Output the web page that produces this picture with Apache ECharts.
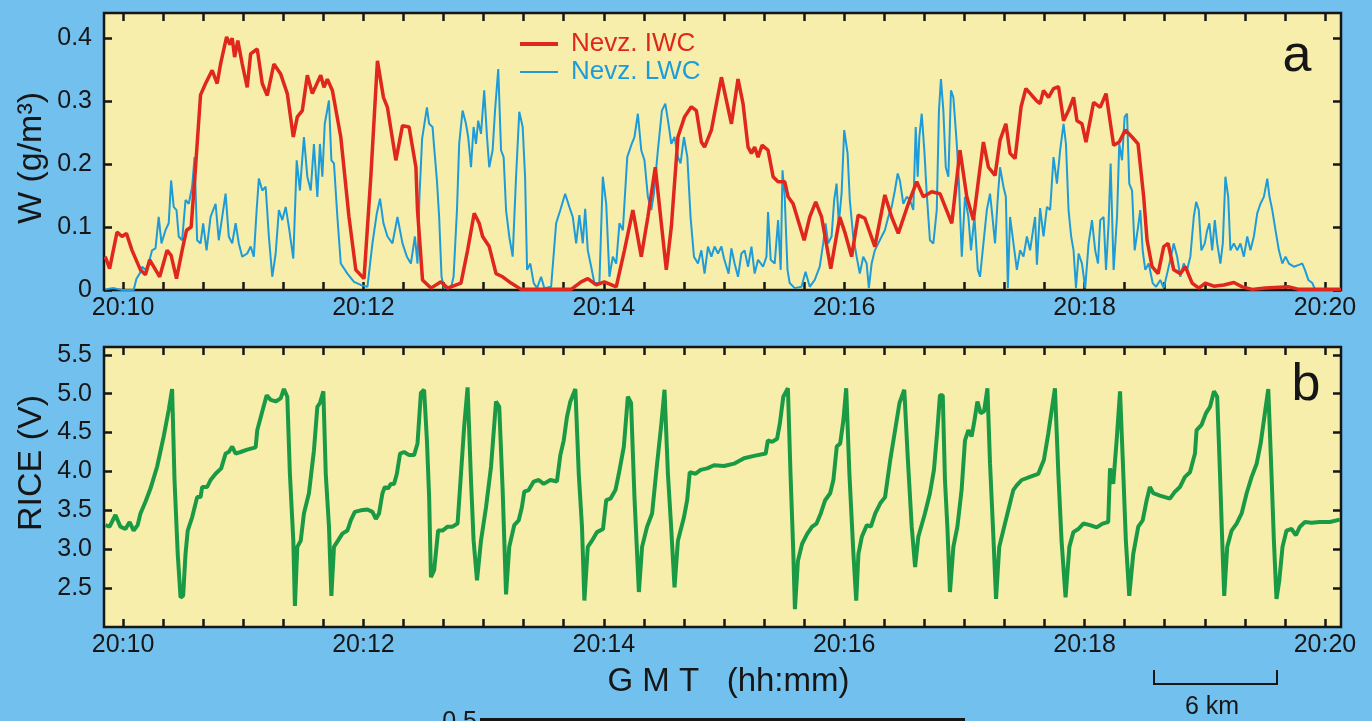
<!DOCTYPE html>
<html>
<head>
<meta charset="utf-8">
<title>Nevz. IWC / LWC and RICE</title>
<script src="https://cdn.jsdelivr.net/npm/echarts@6/dist/echarts.min.js"></script>
<style>
html, body { margin: 0; padding: 0; background: #72c0ee; }
#chart { width: 1372px; height: 721px; }
</style>
</head>
<body>
<div id="chart"></div>
<script>
// time is seconds after 20:10:00 GMT

// panel a - Nevz. IWC (g/m3)
var iwcTime = [-8.9,-6.7,-3,-0.5,1.7,4.5,8.7,11.2,13.3,15.3,18.3,22,24,26.7,29.5,31.7,34,36.2,38.7,41.2,44.5,47,48.7,51.7,53.3,54.5,55.7,57.3,59.5,62,63.7,67,69.5,72,75.3,78.7,82,85,87,89.5,92,94.5,98.7,100.3,102,104.5,108.7,112.8,116.2,120.3,123.7,127,130,132,136.2,139.5,142.8,146.2,147,149.5,153.7,158.7,162,168.7,172,175.3,177.8,179.5,182.8,186.2,189.5,193.7,198.7,223.7,228.7,232,236.2,240.3,246.2,250.3,254.5,258.7,262,265.7,268.7,271.2,273.7,277,280.3,283.7,286.2,288.7,290.3,293.7,298.7,303.7,307,309.5,312,313.7,315.3,317,319,322,324.5,327,330.3,332,334.5,340,342.8,345.8,348.7,353.3,357.8,360.3,363.7,367,370.3,375.3,380.3,383.7,387,392,396.2,399.5,403.7,407.8,413.7,417.8,421.2,424.5,427,429.5,432,435.3,437.8,440.7,442.8,445.3,448.3,450.7,453.7,456.2,457.8,459.5,462,464.5,467,469.5,472,474.5,476.2,478.7,480.7,484.5,487.8,490.7,494.5,497.3,500.3,503.7,506.7,509.5,511.2,513.7,516.7,519.5,521.7,524.5,527.8,530.3,533.7,537,540.3,544.5,549.5,554.5,558.7,563.7,570.3,582,587,608];
var iwcVal = [0.053,0.034,0.092,0.085,0.09,0.063,0.032,0.024,0.048,0.037,0.021,0.063,0.055,0.018,0.063,0.095,0.1,0.195,0.31,0.328,0.349,0.328,0.359,0.402,0.39,0.40,0.37,0.396,0.359,0.322,0.375,0.383,0.328,0.309,0.359,0.343,0.312,0.243,0.275,0.285,0.341,0.312,0.341,0.322,0.335,0.317,0.243,0.116,0.032,0.018,0.18,0.364,0.306,0.29,0.206,0.261,0.259,0.195,0.127,0.016,0.003,0.013,0.003,0.011,0.063,0.122,0.106,0.085,0.069,0.026,0.021,0.011,0.001,0.001,0.013,0.018,0.008,0.013,0.005,0.063,0.127,0.053,0.116,0.195,0.106,0.032,0.1,0.243,0.275,0.291,0.285,0.235,0.227,0.254,0.338,0.264,0.335,0.296,0.227,0.217,0.227,0.211,0.23,0.222,0.18,0.172,0.172,0.148,0.137,0.079,0.116,0.14,0.116,0.034,0.116,0.092,0.053,0.119,0.114,0.069,0.151,0.116,0.09,0.137,0.172,0.148,0.156,0.153,0.106,0.222,0.148,0.111,0.174,0.235,0.195,0.182,0.238,0.264,0.217,0.209,0.291,0.32,0.309,0.30,0.296,0.317,0.306,0.32,0.323,0.269,0.285,0.306,0.269,0.264,0.235,0.298,0.29,0.312,0.23,0.235,0.254,0.243,0.232,0.148,0.079,0.037,0.026,0.069,0.074,0.032,0.026,0.037,0.011,0.003,0.011,0.006,0.008,0.012,0.005,0.001,0.003,0.005,0.001,0.001];

// panel a - Nevz. LWC (g/m3)
var lwcTime = [-8.9,-4.7,-0.5,3,5.3,6.7,8.3,9.5,11.2,12.8,14.5,16.2,17.8,19.2,21.2,22.8,24,25.3,26.7,27.8,29.5,31.2,32.8,34.5,35.7,37,38.7,40,41.7,43.7,46.2,47.8,49.5,51.2,52.8,54.5,56.2,57.8,59.5,62,63.7,65.3,66.7,67.8,69.5,71.2,72.8,74.5,76.2,77.8,79.5,81.2,82.8,85,86.7,88.3,90.3,92,93.7,95.3,97,98.3,99.5,100.7,102.8,104,105.3,107,108.7,112,115.3,118.7,122,124.5,126.7,128.3,130,132,134.5,137,139.5,141.7,143.7,145.7,147,148,149.3,151.7,152.8,154.5,155.3,156.7,157.8,159,160.3,163.7,165,166.7,167.8,169.5,171.2,172.3,173.7,175,176.2,177.3,178.7,180.3,181.7,182.8,184.5,185.7,187.3,188.7,190,191.2,192.8,194.5,196.2,197.8,199.5,200.7,201.7,203.3,205,206.7,208.7,210.3,213.7,216.2,218.3,220.7,222.8,224.5,226.2,227.8,229.5,230.7,232,233.7,235.3,237.8,239.5,241.2,242.8,244.5,246.2,247.8,249.5,251.7,253.7,255.3,257,258.7,260.3,262,263.7,265,267,269,270.7,272.3,273.7,275.3,277,278.3,280,281.7,283.3,285,287,288.7,290.3,292,293.7,295.3,297,298.7,300,302.3,303.7,305.3,307,308.7,310.3,312,313.7,315.3,317,319.5,321.2,322,323.3,325.3,327,328.3,329.2,330.3,331.7,332.8,335.3,338.7,340.7,342.8,345.3,347.8,349.5,350.7,352,353.7,355,356.2,357.3,358.7,360,361.7,362.8,364.5,366.2,367.8,369.5,371.2,372.3,373.7,375.3,377,378.7,380.3,382,383.7,385.3,386.7,387.8,389.5,391.2,392.8,394.5,395.7,396.7,397.5,398.7,400,401.2,402.8,404.5,406.2,407.3,408.3,409.5,410.7,412,413.3,414.5,416.2,417.3,418.7,420.3,422,423.3,425,426.7,427.8,429.5,431.2,432.8,434,435.3,436.7,437.8,439.5,440.7,441.7,442.8,444.5,446.2,447.8,449.5,451.2,452.8,454.5,455.3,456.2,457.8,459.5,461.2,462.8,464.5,466.2,467.8,469.5,470.7,472,473.3,474.5,475.7,477,478.7,480.3,482,483.7,485.3,486.7,487.8,489.5,490.7,492,493,494.5,496.2,497.3,498.7,500,501.2,502.3,503.7,505,506.7,507.8,509,510.3,512,514,515.7,517.8,519.5,521.2,522.8,524.5,526.2,527.8,529.5,531.2,532.8,534.5,535.7,537,538.3,540,541.2,542.3,543.7,545,546.2,547.8,549,550.3,551.7,552.8,554.5,556.2,557.8,559.5,561.2,562.8,564.5,566.2,567.8,569.5,571.2,572.3,573.7,575.3,577,578.7,580.3,582,584.5,587,588.7,590,591.7,593.7,595];
var lwcVal = [0.001,0.003,0,0,0,0.018,0.026,0.037,0.032,0.042,0.063,0.066,0.116,0.074,0.095,0.106,0.174,0.132,0.127,0.085,0.079,0.143,0.137,0.164,0.211,0.079,0.074,0.106,0.063,0.116,0.137,0.079,0.116,0.153,0.085,0.074,0.106,0.074,0.053,0.058,0.069,0.053,0.127,0.177,0.158,0.164,0.085,0.021,0.058,0.127,0.111,0.132,0.1,0.05,0.206,0.158,0.243,0.18,0.158,0.232,0.148,0.232,0.18,0.264,0.301,0.206,0.201,0.116,0.042,0.026,0.013,0.008,0.005,0.074,0.122,0.145,0.106,0.085,0.074,0.116,0.074,0.053,0.042,0.085,0.042,0.15,0.24,0.29,0.264,0.259,0.227,0.174,0.116,0.021,0.003,0.003,0.021,0.127,0.232,0.285,0.264,0.243,0.195,0.259,0.232,0.269,0.248,0.317,0.243,0.195,0.222,0.285,0.351,0.222,0.211,0.127,0.085,0.053,0.18,0.283,0.259,0.18,0.032,0.042,0.011,0.003,0.021,0.003,0.005,0.106,0.127,0.153,0.132,0.116,0.074,0.119,0.074,0.129,0.063,0.037,0.011,0.011,0.18,0.137,0.021,0.053,0.042,0.106,0.095,0.211,0.23,0.243,0.28,0.222,0.206,0.148,0.127,0.153,0.222,0.285,0.296,0.264,0.232,0.243,0.211,0.201,0.243,0.211,0.116,0.053,0.042,0.063,0.026,0.069,0.053,0.069,0.058,0.069,0.05,0.026,0.066,0.042,0.021,0.058,0.063,0.037,0.069,0.026,0.048,0.037,0.053,0.124,0.048,0.042,0.111,0.032,0.19,0.148,0.032,0.011,0.003,0.005,0.029,0.005,0.016,0.037,0.074,0.106,0.074,0.085,0.143,0.169,0.106,0.153,0.254,0.217,0.143,0.085,0.053,0.026,0.053,0.042,0.003,0.042,0.063,0.074,0.085,0.095,0.116,0.132,0.158,0.185,0.174,0.137,0.148,0.143,0.127,0.259,0.18,0.243,0.28,0.222,0.153,0.079,0.074,0.127,0.285,0.335,0.285,0.195,0.18,0.317,0.306,0.232,0.169,0.053,0.148,0.116,0.063,0.116,0.032,0.021,0.074,0.127,0.153,0.116,0.074,0.148,0.195,0.164,0.148,0.003,0.116,0.074,0.032,0.063,0.053,0.085,0.063,0.1,0.116,0.04,0.13,0.085,0.132,0.127,0.211,0.169,0.222,0.264,0.232,0.127,0.085,0.063,0.003,0.058,0.042,0.003,0.074,0.111,0.063,0.042,0.111,0.116,0.032,0.106,0.201,0.032,0.116,0.232,0.206,0.275,0.28,0.169,0.158,0.063,0.1,0.127,0.063,0.032,0.042,0.011,0.005,0.016,0.003,0.026,0.048,0.074,0.053,0.021,0.042,0.032,0.053,0.116,0.14,0.127,0.063,0.074,0.095,0.106,0.063,0.111,0.074,0.042,0.074,0.18,0.148,0.063,0.074,0.063,0.074,0.053,0.085,0.063,0.085,0.122,0.137,0.148,0.177,0.148,0.127,0.095,0.063,0.042,0.053,0.042,0.037,0.04,0.042,0.032,0.016,0.011,0.001];

// panel b - RICE (V)
var riceTime = [-8.8,-6.7,-3.8,-1.3,1.2,3.3,5.3,7.3,8.7,11.2,13.7,17,20.3,22.8,24.5,25.7,27.3,28.7,30,31.2,32.3,34.5,37,38.7,39.5,42,43.7,46.2,49,51.2,52.8,54.5,56.2,58.7,62,66.2,67,69.5,71.7,73.7,76.2,78.7,80.3,82,83.3,85,85.8,87,88.7,90.3,92.8,95.3,97,98.3,100,101.2,102.8,104,105.3,107.3,109.5,112,113.7,115.7,118.7,122,124.5,126.2,127.8,129.5,130.7,132.3,133.7,135.3,136.7,138.3,140.3,142.8,145.3,147,148.7,150.3,151.7,152.8,153.7,155.3,157.3,159.5,162,164.5,167,168.7,170.3,172,173.7,175,176.7,178.7,181.2,183.7,186.2,187.8,189.5,191.2,192.8,195.3,197.5,199.1,200.3,202.5,205,207.5,210,213.3,216.6,218.3,220,221.6,223.3,225.8,227.5,229.1,230.3,232,234.1,236.6,239.6,241.2,243.3,245.8,247.5,250,252,253.6,255.3,257.5,259.1,261.6,264.1,266.6,268.6,270.3,272,273.6,275.3,277,280,281.6,282.9,285.8,288.3,291.6,295,300,305,310,315,320.8,321.9,324,326.5,327.9,329.6,331.9,333.2,334.5,335.4,336.9,339,341.6,344,346.2,348.3,350.5,353,354.6,356.3,358,359.6,361,362.6,364.6,366,367.1,368.8,371.3,373.3,375.5,378,380.4,383,385.4,387.6,390,391.7,393.7,395.4,397,400.3,402.8,404.8,406.5,407.8,409.2,410.3,411.5,412.8,414.5,416.5,418.6,420.3,422,423.6,424.8,426.5,428.1,429.8,431.5,432.8,434.4,435.8,437.4,439.4,441.9,444.4,446.1,448.6,452.7,456.9,459.7,461.9,463.6,465.2,466.9,468.5,470.5,472.4,474.4,476.9,479.4,482.7,486,489,491.8,492.7,494.3,496,497.7,499,500.6,502.3,504.3,506.8,509,511,512.6,514.3,517.6,520.1,522.6,525.1,527.6,530.1,532.6,535.1,535.9,538.4,540.6,542.6,544.6,546.2,547.6,548.7,549.7,551.2,553.4,555.9,558.4,560.9,563.4,565.9,567.9,570,571.7,573.3,574.5,575.8,577.2,578.8,580.8,583.3,585.5,587.5,590,593.3,597.4,602.4,607.4];
var riceVal = [3.31,3.29,3.44,3.29,3.26,3.35,3.24,3.31,3.46,3.61,3.78,4.06,4.45,4.79,5.06,3.89,2.94,2.38,2.40,2.94,3.24,3.41,3.67,3.67,3.80,3.80,3.89,3.97,4.04,4.23,4.25,4.32,4.23,4.25,4.28,4.31,4.53,4.77,4.98,4.92,4.90,4.94,5.06,4.96,3.97,3.11,2.27,3.03,3.11,3.46,3.72,4.27,4.83,4.88,5.03,3.97,3.29,2.40,3.03,3.11,3.20,3.24,3.37,3.48,3.50,3.51,3.48,3.39,3.46,3.72,3.80,3.78,3.84,3.84,3.97,4.23,4.25,4.21,4.21,4.36,5.01,5.05,4.40,3.67,2.64,2.73,3.24,3.24,3.29,3.29,3.33,3.97,4.58,5.08,3.89,3.11,2.60,3.11,3.54,4.06,4.90,4.83,3.76,2.42,3.03,3.31,3.37,3.54,3.74,3.76,3.87,3.89,3.84,3.89,3.87,4.21,4.40,4.70,4.90,5.06,3.97,3.29,2.34,3.03,3.11,3.22,3.26,3.63,3.65,3.76,3.97,4.32,4.96,4.88,3.67,2.45,3.03,3.29,3.46,4.10,4.58,5.05,3.97,3.29,2.51,3.11,3.41,3.63,3.99,3.97,4.02,4.04,4.08,4.07,4.10,4.17,4.20,4.23,4.40,4.38,4.42,4.62,4.96,5.07,3.97,3.03,2.23,2.85,3.07,3.20,3.29,3.33,3.46,3.63,3.72,3.89,4.32,4.36,4.66,5.07,3.97,2.94,2.34,2.94,3.16,3.31,3.29,3.46,3.59,3.67,4.15,4.53,4.88,5.05,4.19,3.29,2.77,3.16,3.46,3.72,4.02,4.53,4.98,4.98,3.89,3.29,2.45,3.03,3.29,3.76,4.40,4.53,4.45,4.62,4.90,4.75,4.77,5.07,4.10,3.20,2.36,3.03,3.24,3.50,3.76,3.82,3.89,3.93,3.97,4.15,4.49,4.79,5.07,3.97,3.11,2.38,3.03,3.22,3.26,3.33,3.31,3.28,3.33,3.35,4.04,3.84,4.40,5.03,4.19,3.11,2.40,2.94,3.29,3.37,3.63,3.80,3.72,3.69,3.67,3.65,3.74,3.80,3.93,3.99,4.23,4.53,4.60,4.75,4.83,5.03,4.96,3.97,3.11,2.40,3.03,3.24,3.33,3.46,3.72,3.93,4.10,4.36,4.75,5.06,3.97,3.11,2.36,2.60,3.03,3.24,3.26,3.18,3.29,3.35,3.34,3.35,3.35,3.38];

// axis ticks and labels
var timeLabels = [0, 120, 240, 360, 480, 600];
var timeTicks = [];
for (var s = 0; s <= 600; s += 20) timeTicks.push(s);
var wTicks = [0, 0.1, 0.2, 0.3, 0.4];
var riceTicks = [2.5, 3.0, 3.5, 4.0, 4.5, 5.0, 5.5];

function pairs(xs, ys) {
  var out = [];
  for (var i = 0; i < xs.length; i++) out.push([xs[i], ys[i]]);
  return out;
}
function hhmm(sec) {
  var m = 10 + Math.round(sec / 60);
  return '20:' + (m < 10 ? '0' + m : m);
}

var FONT = 'Liberation Sans, Arial, Helvetica, sans-serif';
var INK = '#161616';
var RED = '#e0271d';
var BLUE = '#1e9bd9';
var GREEN = '#1b9a45';
var XMIN = -9.5, XMAX = 608;

function timeAxis(grid, pos, showLabels, extra) {
  var ax = {
    type: 'value', gridIndex: grid, position: pos, min: XMIN, max: XMAX,
    axisLine: { show: false, onZero: false },
    splitLine: { show: false },
    axisTick: { show: true, inside: true, length: 8, customValues: timeTicks, lineStyle: { color: INK, width: 2.5 } },
    axisLabel: { show: showLabels, customValues: timeLabels, formatter: hhmm, margin: 6,
      fontSize: 25, color: INK, fontFamily: FONT }
  };
  for (var k in extra) ax[k] = extra[k];
  return ax;
}
function valAxis(grid, pos, min, max, ticks, showLabels, fmt) {
  return {
    type: 'value', gridIndex: grid, position: pos, min: min, max: max,
    axisLine: { show: false, onZero: false },
    splitLine: { show: false },
    axisTick: { show: true, inside: true, length: 8, customValues: ticks, lineStyle: { color: INK, width: 2.5 } },
    axisLabel: { show: showLabels, customValues: ticks, formatter: fmt, margin: 12,
      fontSize: 25, color: INK, fontFamily: FONT }
  };
}

function legendItem(name, color, thick, top) {
  return {
    orient: 'vertical', left: 515, top: top, itemWidth: 38, itemHeight: thick, icon: 'rect',
    textStyle: { fontSize: 26, fontFamily: FONT, color: color, padding: [0, 0, 0, 8] },
    data: [name]
  };
}

var chart = echarts.init(document.getElementById('chart'));
chart.setOption({
  backgroundColor: '#72c0ee',
  animation: false,
  grid: [
    { left: 104, right: 31, top: 13, height: 277, show: true, backgroundColor: '#f6eeaa', borderColor: INK, borderWidth: 2.5 },
    { left: 104, right: 31, top: 347, height: 280, show: true, backgroundColor: '#f6eeaa', borderColor: INK, borderWidth: 2.5 }
  ],
  legend: [
    legendItem('Nevz. IWC', RED, 4, 26),
    legendItem('Nevz. LWC', BLUE, 2, 54)
  ],
  xAxis: [
    timeAxis(0, 'bottom', true, {}),
    timeAxis(0, 'top', false, {}),
    timeAxis(1, 'bottom', true, {
      name: 'G M T   (hh:mm)', nameLocation: 'middle', nameGap: 38,
      nameTextStyle: { fontSize: 33, color: INK, fontFamily: FONT, padding: [0, 0, 0, 12] }
    }),
    timeAxis(1, 'top', false, {})
  ],
  yAxis: [
    valAxis(0, 'left', 0, 0.44, wTicks, true, function (v) { return v === 0 ? '0' : v.toFixed(1); }),
    valAxis(0, 'right', 0, 0.44, wTicks, false, null),
    valAxis(1, 'left', 2.0, 5.6, riceTicks, true, function (v) { return v.toFixed(1); }),
    valAxis(1, 'right', 2.0, 5.6, riceTicks, false, null)
  ],
  series: [
    { name: 'Nevz. LWC', type: 'line', xAxisIndex: 0, yAxisIndex: 0, symbol: 'none',
      data: pairs(lwcTime, lwcVal), lineStyle: { color: BLUE, width: 2 }, itemStyle: { color: BLUE } },
    { name: 'Nevz. IWC', type: 'line', xAxisIndex: 0, yAxisIndex: 0, symbol: 'none',
      data: pairs(iwcTime, iwcVal), lineStyle: { color: RED, width: 3.5 }, itemStyle: { color: RED } },
    { name: 'RICE', type: 'line', xAxisIndex: 2, yAxisIndex: 2, symbol: 'none',
      data: pairs(riceTime, riceVal), lineStyle: { color: GREEN, width: 4 }, itemStyle: { color: GREEN } }
  ],
  graphic: [
    { type: 'text', x: 32, y: 158, rotation: Math.PI / 2,
      style: { text: 'W (g/m³)', font: '34px ' + FONT, fill: INK, align: 'center', verticalAlign: 'middle' } },
    { type: 'text', x: 32, y: 463, rotation: Math.PI / 2,
      style: { text: 'RICE (V)', font: '34px ' + FONT, fill: INK, align: 'center', verticalAlign: 'middle' } },
    { type: 'text', x: 1297, y: 57,
      style: { text: 'a', font: '52px ' + FONT, fill: INK, align: 'center', verticalAlign: 'middle' } },
    { type: 'text', x: 1306, y: 386,
      style: { text: 'b', font: '52px ' + FONT, fill: INK, align: 'center', verticalAlign: 'middle' } },
    { type: 'polyline', shape: { points: [[1154, 670], [1154, 684], [1277, 684], [1277, 670]] },
      style: { stroke: INK, lineWidth: 2, fill: null } },
    { type: 'text', x: 1212, y: 707,
      style: { text: '6 km', font: '25px ' + FONT, fill: INK, align: 'center', verticalAlign: 'middle' } },
    { type: 'text', x: 477, y: 710,
      style: { text: '0.5', font: '25px ' + FONT, fill: INK, align: 'right', verticalAlign: 'top' } },
    { type: 'line', shape: { x1: 480, y1: 719.5, x2: 965, y2: 719.5 },
      style: { stroke: INK, lineWidth: 3 } }
  ]
});
</script>
</body>
</html>
